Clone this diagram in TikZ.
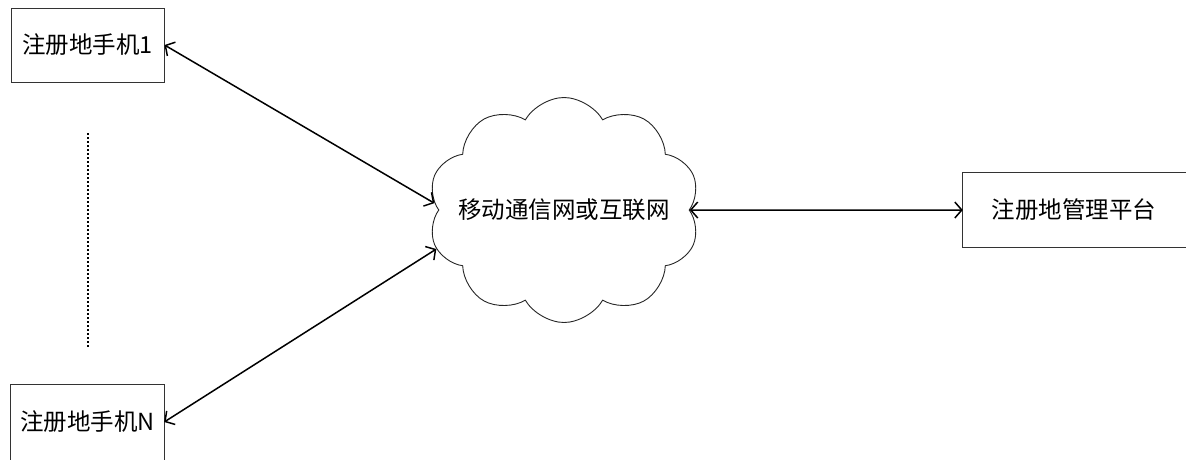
\documentclass[tikz,border=0pt]{standalone}
\usepackage{fontspec}
\newfontfamily\cjk{Noto Sans CJK SC}
\usetikzlibrary{shapes.symbols,arrows.meta}
\begin{document}
\begin{tikzpicture}[x=1pt,y=-1pt,
  boxline/.style={draw=black!80,line width=1pt},
  cjkfont/.style={font=\cjk\fontsize{23.5}{26}\selectfont},
  lbl/.style={cjkfont,inner sep=0pt,minimum width=153pt,minimum height=74pt},
  link/.style={line width=1.5pt,{Straight Barb[length=7pt,width=16pt]}-{Straight Barb[length=7pt,width=16pt]}}]
\useasboundingbox[fill=white] (0,0) rectangle (1186,459);
% handset 1
\node[lbl,boxline] (m1) at (87.5,45) {注册地手机1};
% handset N (box runs off the bottom)
\node[lbl] (mN) at (87.5,422) {注册地手机N};
\draw[boxline] ([yshift=-20pt]mN.south west) -- (mN.north west) -- (mN.north east) -- ([yshift=-20pt]mN.south east);
% dotted
\coordinate (d1) at (88,133);
\coordinate (d2) at (88,347);
\draw[line width=1.6pt,dash pattern=on 2pt off 2pt] (d1) -- (d2);
% cloud
\node[cloud,draw=black!85,line width=0.9pt,cloud puffs=10,cloud puff arc=120,minimum width=272pt,minimum height=225pt,inner sep=0pt] (cl) at (564,210) {};
\node[cjkfont,inner sep=0pt] (clt) at (cl.center) {移动通信网或互联网};
% platform (box runs off the right)
\node[lbl,minimum width=222pt] (pf) at (1074,210) {注册地管理平台};
\draw[boxline] ([xshift=20pt]pf.north east) -- (pf.north west) -- (pf.south west) -- ([xshift=20pt]pf.south east);
% links
\draw[link] (m1.east) -- (cl.177);
\draw[link] (mN.east) -- (cl.197);
\draw[link] (cl.0) -- (pf.west);
\end{tikzpicture}
\end{document}
